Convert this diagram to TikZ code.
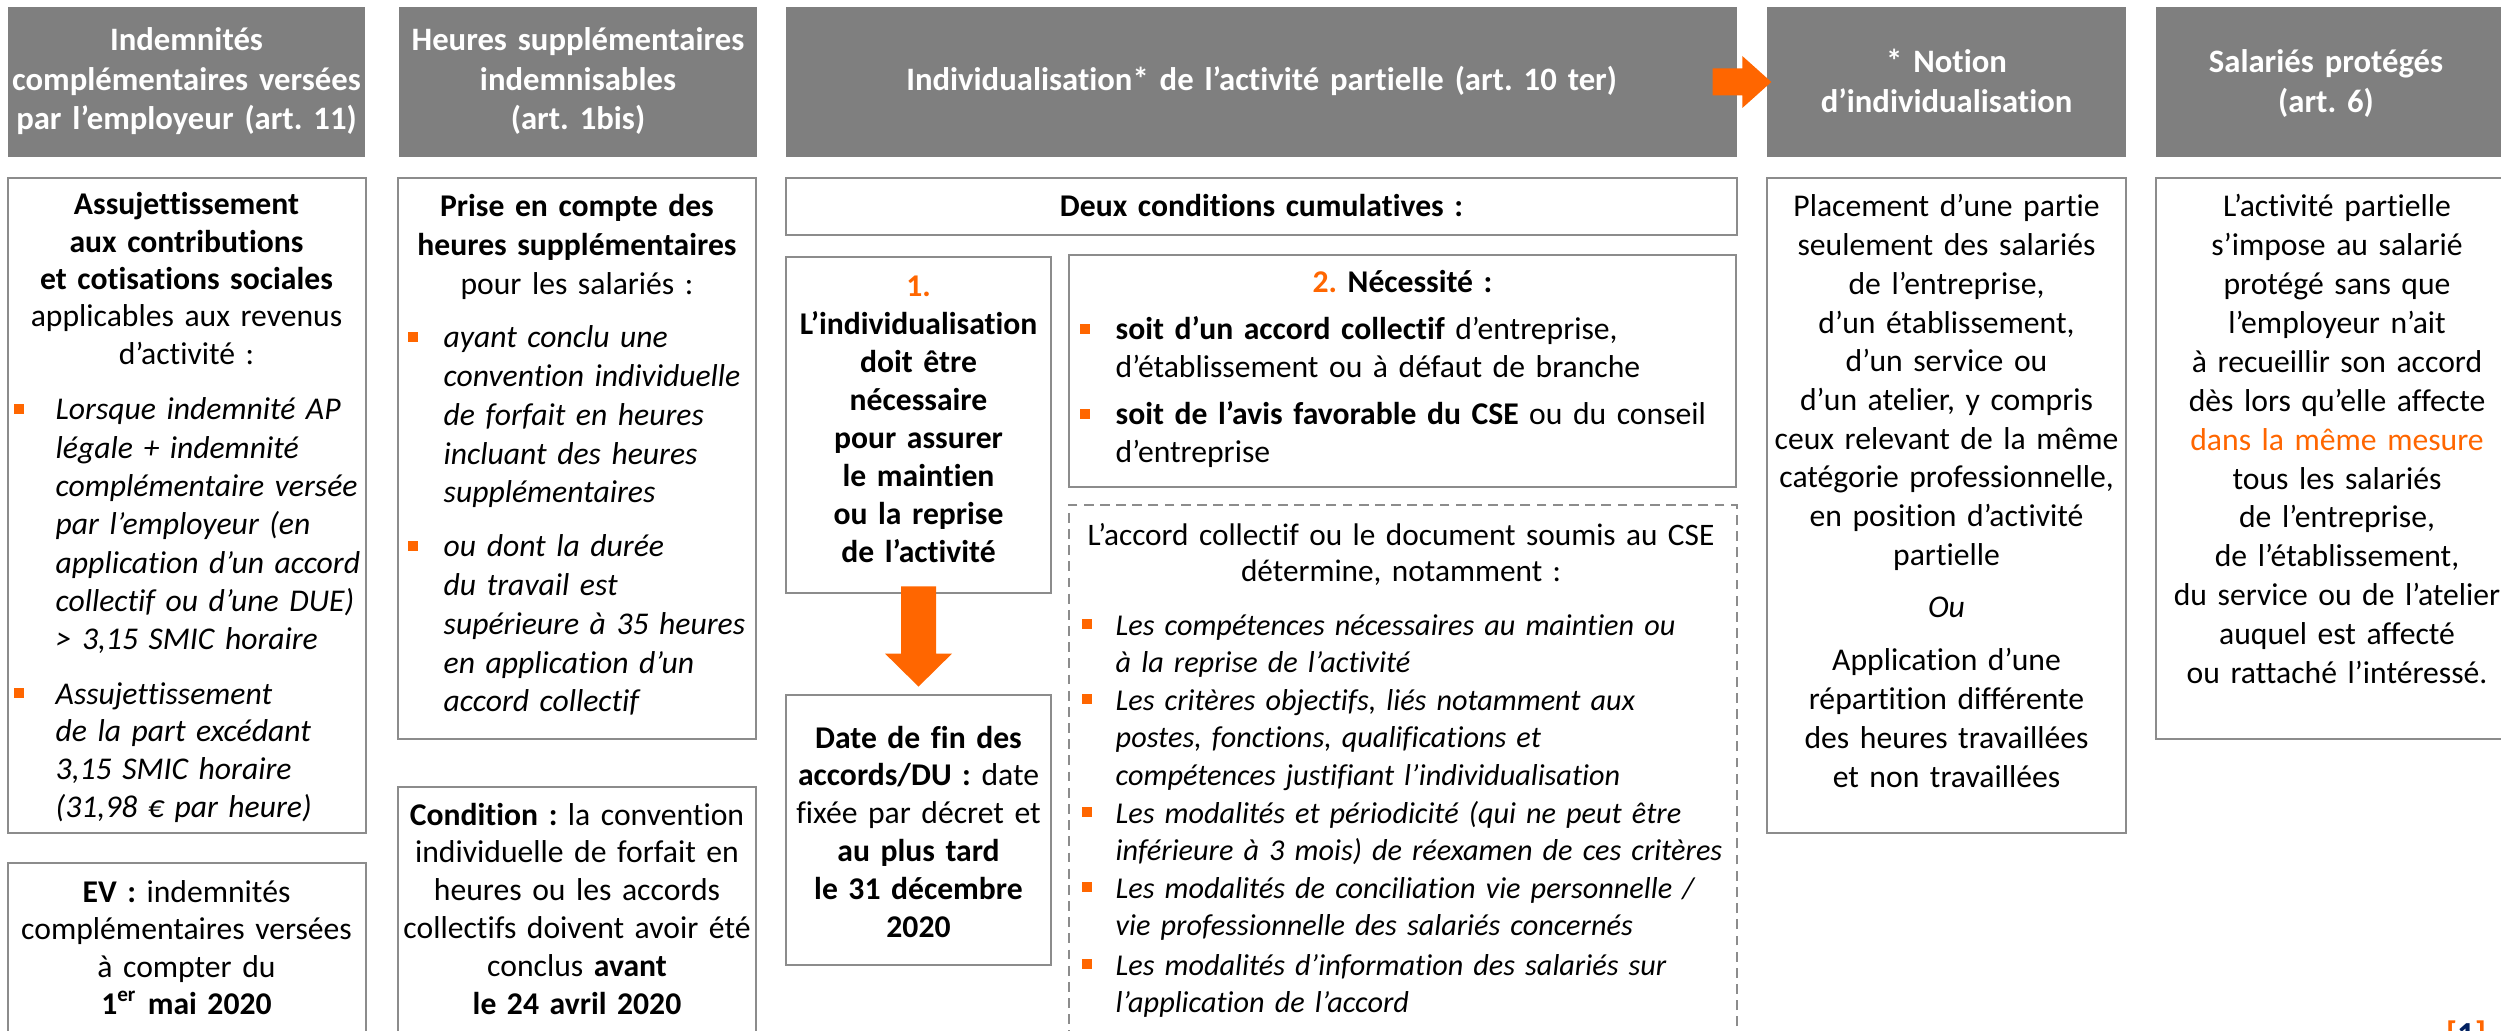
\documentclass[tikz,border=0pt]{standalone}
\usepackage{fontspec}
\setmainfont{Carlito}[Ligatures=NoCommon]
\usetikzlibrary{fit,calc}
\definecolor{hdrgray}{RGB}{127,127,127}
\definecolor{boxgray}{RGB}{140,140,140}
\definecolor{orng}{RGB}{255,102,0}
\definecolor{navyblue}{RGB}{0,32,96}
\newcommand\bodyfs[1]{\fontsize{9}{#1}\selectfont}
\newcommand\dashfs{\fontsize{8.6}{10.67}\selectfont}
\frenchspacing
\begin{document}
\begin{tikzpicture}[x=0.01cm,y=-0.01cm,
  hdr/.style={fill=hdrgray,draw=none,inner sep=0pt},
  box/.style={draw=boxgray,line width=0.8pt,inner sep=0pt},
  dbox/.style={draw=boxgray,line width=0.6pt,dash pattern=on 2.8pt off 1.8pt,inner sep=0pt},
  ht/.style={text=white,inner sep=0pt,anchor=base,align=center,text width=#1,font=\bfseries\fontsize{9.3}{11.1}\selectfont},
  ct/.style={inner sep=0pt,anchor=base,align=center,text width=#1},
  lt/.style={inner sep=0pt,anchor=base west,align=left,text width=#1},
  bul/.style={fill=orng,draw=none,inner sep=0pt,minimum size=0.1cm},
  blockarrow/.style={fill=orng,draw=none}
]
\useasboundingbox (0,0) rectangle (2501,1031);
\clip (0,0) rectangle (2501,1031);

% ---------- headers ----------
\node[hdr,fit={(8,7) (365,157)}] (H1) {};
\node[hdr,fit={(399,7) (757,157)}] (H2) {};
\node[hdr,fit={(786,7) (1737,157)}] (H3) {};
\node[hdr,fit={(1767,7) (2126,157)}] (H4) {};
\node[hdr,fit={(2156,7) (2530,157)}] (H5) {};

\node[ht=3.5cm] (h1t) at (186.5,51) {Indemnités\\complémentaires versées\\par l’employeur (art. 11)};
\node[ht=3.5cm] (h2t) at (578,51) {Heures supplémentaires\\indemnisables\\(art. 1bis)};
\node[ht=9cm] (h3t) at (1261.5,91) {Individualisation* de l’activité partielle (art. 10 ter)};
\node[ht=3.5cm] (h4t) at (1946.5,73) {* Notion\\d’individualisation};
\node[ht=3.5cm] (h5t) at (2326,73) {Salariés protégés\\(art. 6)};

% ---------- boxes ----------
\node[box,fit={(8,178) (366,833)}] (A) {};
\node[box,fit={(8,863) (366,1070)}] (EV) {};
\node[box,fit={(398,178) (756,739)}] (C) {};
\node[box,fit={(398,787) (756,1070)}] (D) {};
\node[box,fit={(786,178) (1737,235)}] (deux) {};
\node[box,fit={(786,257) (1051,593)}] (box1) {};
\node[box,fit={(1069,255) (1736,487)}] (box2) {};
\node[box,fit={(786,695) (1051,965)}] (date) {};
\node[dbox,fit={(1069,505) (1737,1070)}] (dash) {};
\node[box,fit={(1767,178) (2126,833)}] (B4) {};
\node[box,fit={(2156,178) (2530,739)}] (B5) {};

% ---------- column 1 ----------
\node[ct=3.5cm,font=\bodyfs{10.6}] (tA) at (186.5,215) {\textbf{Assujettissement}\\\textbf{aux contributions}\\\textbf{et cotisations sociales}\\applicables aux revenus\\d’activité :};
\node[bul] (bA1) at (19,409) {};
\node[lt=3.2cm,font=\itshape\bodyfs{10.9}] (tA1) at (55,420) {Lorsque indemnité AP\\légale + indemnité\\complémentaire versée\\par l’employeur (en\\application d’un accord\\collectif ou d’une DUE)\\> 3,15 SMIC horaire};
\node[bul] (bA2) at (19,693) {};
\node[lt=3.2cm,font=\itshape\bodyfs{10.8}] (tA2) at (55,704) {Assujettissement\\de la part excédant\\3,15 SMIC horaire\\(31,98 € par heure)};
\node[ct=3.5cm,font=\bodyfs{10.7}] (tEV) at (186.5,902) {\textbf{EV :} indemnités\\complémentaires versées\\à compter du\\\textbf{1\textsuperscript{er} mai 2020}};

% ---------- column 2 ----------
\node[ct=3.5cm,font=\bodyfs{10.95}] (tC) at (577,217) {\textbf{Prise en compte des}\\\textbf{heures supplémentaires}\\pour les salariés :};
\node[bul] (bC1) at (412.5,337) {};
\node[lt=3.1cm,font=\itshape\bodyfs{11}] (tC1) at (443,348) {ayant conclu une\\convention individuelle\\de forfait en heures\\incluant des heures\\supplémentaires};
\node[bul] (bC2) at (412.5,546) {};
\node[lt=3.1cm,font=\itshape\bodyfs{11}] (tC2) at (443,557) {ou dont la durée\\du travail est\\supérieure à 35 heures\\en application d’un\\accord collectif};
\node[ct=3.5cm,font=\bodyfs{10.8}] (tD) at (577,825) {\textbf{Condition :} la convention\\individuelle de forfait en\\heures ou les accords\\collectifs doivent avoir été\\conclus \textbf{avant}\\\textbf{le 24 avril 2020}};

% ---------- column 3 ----------
\node[ct=9cm,font=\bfseries\bodyfs{10.8}] (tdeux) at (1261.5,217) {Deux conditions cumulatives :};
\node[ct=2.6cm,font=\bfseries\bodyfs{10.8}] (t1) at (918.5,297) {\textcolor{orng}{1.}\\L’individualisation\\doit être\\nécessaire\\pour assurer\\le maintien\\ou la reprise\\de l’activité};
\node[ct=6cm,font=\bfseries\bodyfs{10.8}] (t2) at (1402.5,293) {\textcolor{orng}{2.} Nécessité :};
\node[bul] (b21) at (1084.5,329) {};
\node[lt=6.2cm,font=\bodyfs{10.8}] (t21) at (1115,340) {\textbf{soit d’un accord collectif} d’entreprise,\\d’établissement ou à défaut de branche};
\node[bul] (b22) at (1084.5,414) {};
\node[lt=6.2cm,font=\bodyfs{10.8}] (t22) at (1115,425) {\textbf{soit de l’avis favorable du CSE} ou du conseil\\d’entreprise};
\node[ct=2.6cm,font=\bodyfs{10.75}] (tdate) at (918.5,748) {\textbf{Date de fin des}\\\textbf{accords/DU :} date\\fixée par décret et\\\textbf{au plus tard}\\\textbf{le 31 décembre}\\\textbf{2020}};
\node[ct=6.4cm,font=\fontsize{8.9}{10.5}\selectfont] (tdash) at (1401,545) {L’accord collectif ou le document soumis au CSE\\détermine, notamment :};
\node[bul] (bd1) at (1086.5,624) {};
\node[lt=6.6cm,font=\itshape\dashfs] (td1) at (1115,635) {Les compétences nécessaires au maintien ou\\à la reprise de l’activité};
\node[bul] (bd2) at (1086.5,699) {};
\node[lt=6.6cm,font=\itshape\dashfs] (td2) at (1115,710) {Les critères objectifs, liés notamment aux\\postes, fonctions, qualifications et\\compétences justifiant l’individualisation};
\node[bul] (bd3) at (1086.5,812) {};
\node[lt=6.6cm,font=\itshape\dashfs] (td3) at (1115,823) {Les modalités et périodicité (qui ne peut être\\inférieure à 3 mois) de réexamen de ces critères};
\node[bul] (bd4) at (1086.5,887) {};
\node[lt=6.6cm,font=\itshape\dashfs] (td4) at (1115,898) {Les modalités de conciliation vie personnelle /\\vie professionnelle des salariés concernés};
\node[bul] (bd5) at (1086.5,964) {};
\node[lt=6.6cm,font=\itshape\dashfs] (td5) at (1115,975) {Les modalités d’information des salariés sur\\l’application de l’accord};

% ---------- column 4 ----------
\node[ct=3.5cm,font=\bodyfs{11}] (t4a) at (1946.5,217) {Placement d’une partie\\seulement des salariés\\de l’entreprise,\\d’un établissement,\\d’un service ou\\d’un atelier, y compris\\ceux relevant de la même\\catégorie professionnelle,\\en position d’activité\\partielle};
\node[ct=3.5cm,font=\itshape\bodyfs{11}] (t4b) at (1946.5,617) {Ou};
\node[ct=3.5cm,font=\bodyfs{11.1}] (t4c) at (1946.5,670) {Application d’une\\répartition différente\\des heures travaillées\\et non travaillées};

% ---------- column 5 ----------
\node[ct=3.6cm,font=\bodyfs{11.05}] (t5) at (2337,217) {L’activité partielle\\s’impose au salarié\\protégé sans que\\l’employeur n’ait\\à recueillir son accord\\dès lors qu’elle affecte\\\textcolor{orng}{dans la même mesure}\\tous les salariés\\de l’entreprise,\\de l’établissement,\\du service ou de l’atelier\\auquel est affecté\\ou rattaché l’intéressé.};

% ---------- arrows ----------
\coordinate (rs) at ($(H3.east)+(-25,0)$);
\coordinate (rt) at ($(H4.west)+(5,0)$);
\fill[blockarrow] ($(rs)+(0,-13.5)$) -- ($(rt)+(-29,-13.5)$) -- ($(rt)+(-29,-26)$) -- (rt) -- ($(rt)+(-29,26)$) -- ($(rt)+(-29,13.5)$) -- ($(rs)+(0,13.5)$) -- cycle;

\coordinate (ds) at ($(box1.south)+(0,-8)$);
\coordinate (dt) at ($(date.north)+(0,-7)$);
\fill[blockarrow] ($(ds)+(-17.5,0)$) -- ($(ds)+(17.5,0)$) -- ($(dt)+(17.5,-33)$) -- ($(dt)+(33.5,-33)$) -- (dt) -- ($(dt)+(-33.5,-33)$) -- ($(dt)+(-17.5,-33)$) -- cycle;

% ---------- page marker ----------
\node[anchor=north west,inner sep=0pt,font=\bfseries\fontsize{10}{12}\selectfont] (pg) at (2445,1020) {\textcolor{orng}{[}\textcolor{navyblue}{1}\textcolor{orng}{]}};
\end{tikzpicture}
\end{document}
